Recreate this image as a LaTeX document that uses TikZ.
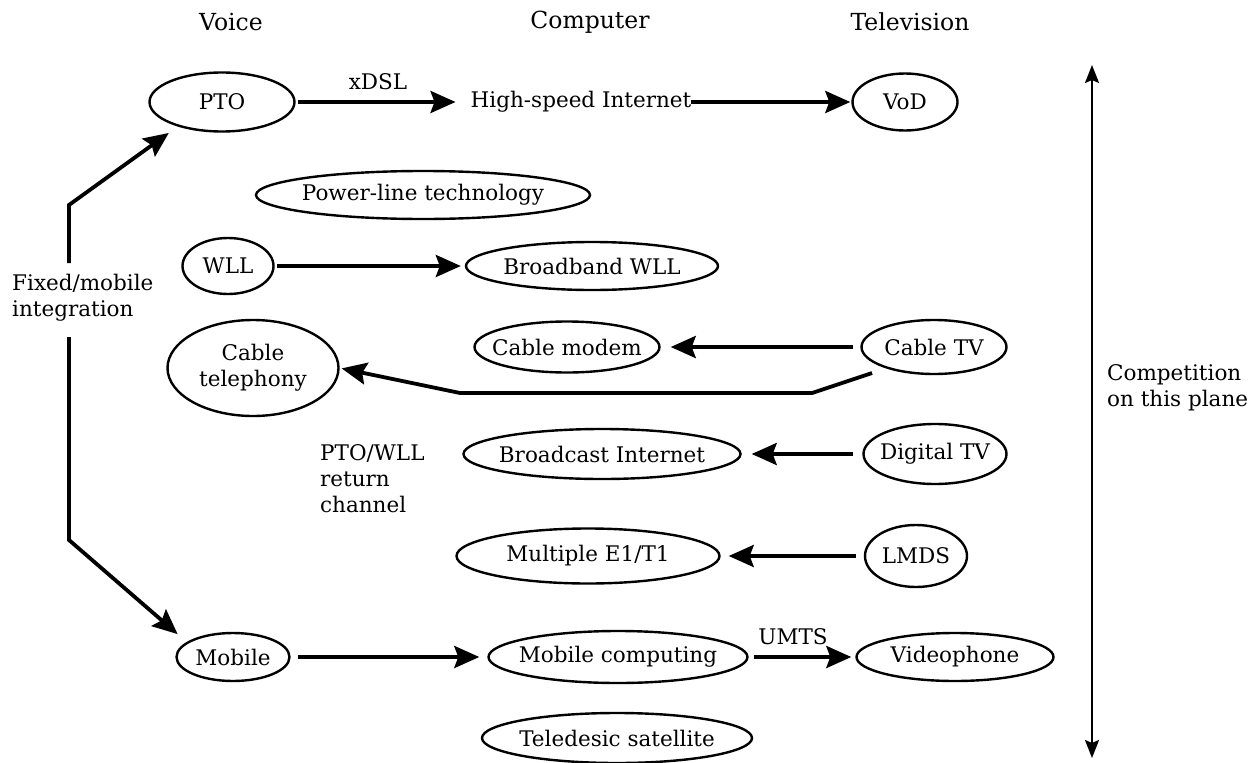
\documentclass[tikz,border=0pt]{standalone}
\usepackage{fontspec}
\setmainfont{DejaVu Serif}
\usetikzlibrary{arrows.meta,shapes.geometric}
\begin{document}
\begin{tikzpicture}[x=1pt,y=-1pt,
  every node/.style={font=\fontsize{21.5}{26}\selectfont, inner sep=0pt},
  head/.style={font=\fontsize{23.5}{28}\selectfont},
  oval/.style={draw, ellipse, line width=2.4pt, inner xsep=-18pt, inner ysep=-4pt},
  arr/.style={line width=3.8pt, -{Stealth[length=25pt,width=22pt,inset=4pt]}, shorten <=6pt, shorten >=6pt},
  dbl/.style={line width=2.6pt, {Stealth[length=18pt,width=14pt,inset=3pt]}-{Stealth[length=18pt,width=14pt,inset=3pt]}}
]
\useasboundingbox (0,0) rectangle (1251,763);
% headers
\node[head] (voice) at (231,22) {Voice};
\node[head] (computer) at (590,22) {Computer};
\node[head] (tv) at (910,22) {Television};
% row 1
\node[oval, minimum width=145pt, minimum height=59pt] (PTO) at (222,102) {PTO};
\node (HSI) at (581,102) {High-speed Internet};
\node[oval, minimum width=105pt, minimum height=57pt] (VoD) at (905,102) {VoD};
\node (xdsl) at (378,82) {xDSL};
% others
\node[oval, minimum width=334pt, minimum height=48pt] (PLT) at (423,195) {Power-line technology};
\node[oval, minimum width=91pt, minimum height=56pt] (WLL) at (228,266) {WLL};
\node[oval, minimum width=252pt, minimum height=48pt] (BWLL) at (592,266) {Broadband WLL};
\node[oval, minimum width=171pt, minimum height=96pt, align=center, inner ysep=-14pt] (CTel) at (253,368) {Cable\\telephony};
\node[oval, minimum width=185pt, minimum height=51pt] (CMod) at (567,347) {Cable modem};
\node[oval, minimum width=145pt, minimum height=54pt] (CTV) at (934,347) {Cable TV};
\node[oval, minimum width=277pt, minimum height=50pt] (BI) at (602,454) {Broadcast Internet};
\node[oval, minimum width=143pt, minimum height=60pt] (DTV) at (935,454) {Digital TV};
\node[oval, minimum width=263pt, minimum height=55pt] (ME) at (588,556) {Multiple E1/T1};
\node[oval, minimum width=102pt, minimum height=62pt] (LMDS) at (916,556) {LMDS};
\node[oval, minimum width=113pt, minimum height=48pt] (Mob) at (233,657) {Mobile};
\node[oval, minimum width=259pt, minimum height=52pt] (MC) at (618,657) {Mobile computing};
\node[oval, minimum width=197pt, minimum height=48pt] (VP) at (955,657) {Videophone};
\node[oval, minimum width=270pt, minimum height=50pt] (TS) at (617,738) {Teledesic satellite};
\node (umts) at (793,637) {UMTS};
% free labels
\node[anchor=west, align=left] (FMI) at (12,298) {Fixed/mobile\\integration};
\node[anchor=west, align=left] (PW) at (320,479) {PTO/WLL\\return\\channel};
\node[anchor=west, align=left] (CP) at (1107,388) {Competition\\on this plane};
% coordinates
\coordinate (fa) at (69,263);
\coordinate (fb) at (69,205);
\coordinate (fc) at (69,337);
\coordinate (fd) at (69,540);
\coordinate (l1) at (872,373);
\coordinate (l2) at (812,393);
\coordinate (l3) at (460,393);
\coordinate (ctop) at (1092,65);
\coordinate (cbot) at (1092,758);
% connectors
\draw[arr, shorten <=2pt, shorten >=15pt] (PTO) -- (HSI.west);
\draw[arr, shorten <=0pt, shorten >=1pt] (HSI.east) -- (VoD);
\draw[arr, shorten <=2pt, shorten >=4pt] (WLL) -- (BWLL);
\draw[arr, shorten <=7pt, shorten >=10pt] (CTV) -- (CMod);
\draw[arr, shorten <=9pt, shorten >=10pt] (DTV) -- (BI);
\draw[arr, shorten <=8pt, shorten >=8pt] (LMDS) -- (ME);
\draw[arr, shorten <=7pt, shorten >=8pt] (Mob) -- (MC);
\draw[arr, shorten <=5pt, shorten >=4pt] (MC) -- (VP);
\draw[arr, shorten <=0pt, shorten >=2pt, line join=miter] (l1) -- (l2) -- (l3) -- (CTel.east);
\draw[arr, shorten <=0pt, shorten >=11pt, line join=miter] (fa) -- (fb) -- (PTO.209);
\draw[arr, shorten <=0pt, shorten >=12pt, line join=miter] (fc) -- (fd) -- (Mob.162);
\draw[dbl] (ctop) -- (cbot);
\end{tikzpicture}
\end{document}
